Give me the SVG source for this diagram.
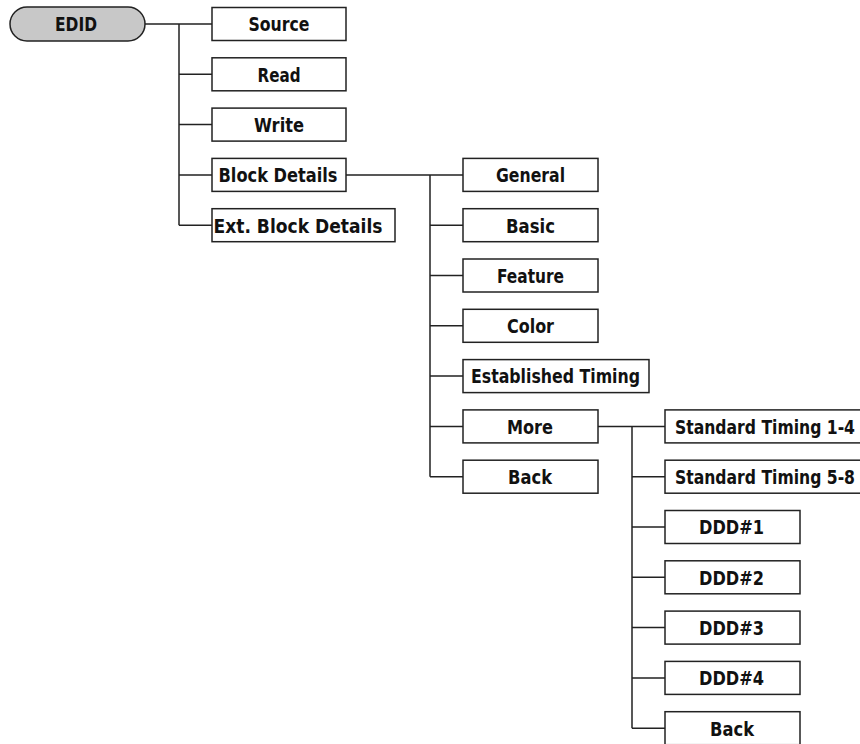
<svg xmlns="http://www.w3.org/2000/svg" width="860" height="744" viewBox="0 0 860 744">
<style>
.box{fill:#fff;stroke:#222;stroke-width:1.5}
.pill{fill:#c8c8c8;stroke:#222;stroke-width:1.5}
.t{font-family:"DejaVu Sans Condensed","DejaVu Sans",sans-serif;font-stretch:condensed;font-weight:bold;font-size:20px;fill:#111;text-anchor:middle}
.c{fill:none;stroke:#222;stroke-width:1.5}
</style>
<rect width="860" height="744" fill="#fff"/>
<g id="connectors">
<path class="c" d="M145,24H212M179,24V225.2M179,74.3H212M179,124.6H212M179,174.9H212M179,225.2H212"/>
<path class="c" d="M346,174.9H463M430,174.9V476.7M430,225.2H463M430,275.5H463M430,325.8H463M430,376.1H463M430,426.4H463M430,476.7H463"/>
<path class="c" d="M598,426.4H665M632,426.4V728.2M632,476.7H665M632,527H665M632,577.3H665M632,627.6H665M632,677.9H665M632,728.2H665"/>
</g>
<g id="edid"><rect class="pill" x="10" y="7" width="135" height="34" rx="17"/><text class="t" x="76" y="31" textLength="42" lengthAdjust="spacingAndGlyphs">EDID</text></g>
<g id="source"><rect class="box" x="212" y="7.5" width="134" height="33"/><text class="t" x="279" y="31.3" textLength="61" lengthAdjust="spacingAndGlyphs">Source</text></g>
<g id="read"><rect class="box" x="212" y="57.8" width="134" height="33"/><text class="t" x="279" y="81.6" textLength="43" lengthAdjust="spacingAndGlyphs">Read</text></g>
<g id="write"><rect class="box" x="212" y="108.1" width="134" height="33"/><text class="t" x="279" y="131.9" textLength="50" lengthAdjust="spacingAndGlyphs">Write</text></g>
<g id="block-details"><rect class="box" x="212" y="158.4" width="134" height="33"/><text class="t" x="278" y="182.2" textLength="119" lengthAdjust="spacingAndGlyphs">Block Details</text></g>
<g id="ext-block-details"><rect class="box" x="212" y="208.7" width="183" height="33"/><text class="t" x="298" y="232.5" textLength="169" lengthAdjust="spacingAndGlyphs">Ext. Block Details</text></g>
<g id="general"><rect class="box" x="463" y="158.4" width="135" height="33"/><text class="t" x="530.5" y="182.2" textLength="69" lengthAdjust="spacingAndGlyphs">General</text></g>
<g id="basic"><rect class="box" x="463" y="208.7" width="135" height="33"/><text class="t" x="530.5" y="232.5" textLength="49" lengthAdjust="spacingAndGlyphs">Basic</text></g>
<g id="feature"><rect class="box" x="463" y="259" width="135" height="33"/><text class="t" x="530.5" y="282.8" textLength="67" lengthAdjust="spacingAndGlyphs">Feature</text></g>
<g id="color"><rect class="box" x="463" y="309.3" width="135" height="33"/><text class="t" x="530.5" y="333.1" textLength="47" lengthAdjust="spacingAndGlyphs">Color</text></g>
<g id="established-timing"><rect class="box" x="463" y="359.6" width="186" height="33"/><text class="t" x="555.5" y="383.4" textLength="169" lengthAdjust="spacingAndGlyphs">Established Timing</text></g>
<g id="more"><rect class="box" x="463" y="409.9" width="135" height="33"/><text class="t" x="530" y="433.7" textLength="46" lengthAdjust="spacingAndGlyphs">More</text></g>
<g id="back1"><rect class="box" x="463" y="460.2" width="135" height="33"/><text class="t" x="530" y="484" textLength="44" lengthAdjust="spacingAndGlyphs">Back</text></g>
<g id="standard-timing-1-4"><rect class="box" x="665" y="409.9" width="210" height="33"/><text class="t" x="765" y="433.7" textLength="180" lengthAdjust="spacingAndGlyphs">Standard Timing 1-4</text></g>
<g id="standard-timing-5-8"><rect class="box" x="665" y="460.2" width="210" height="33"/><text class="t" x="765" y="484" textLength="180" lengthAdjust="spacingAndGlyphs">Standard Timing 5-8</text></g>
<g id="ddd1"><rect class="box" x="665" y="510.5" width="135" height="33"/><text class="t" x="731.5" y="534.3" textLength="65" lengthAdjust="spacingAndGlyphs">DDD#1</text></g>
<g id="ddd2"><rect class="box" x="665" y="560.8" width="135" height="33"/><text class="t" x="731.5" y="584.6" textLength="65" lengthAdjust="spacingAndGlyphs">DDD#2</text></g>
<g id="ddd3"><rect class="box" x="665" y="611.1" width="135" height="33"/><text class="t" x="731.5" y="634.9" textLength="65" lengthAdjust="spacingAndGlyphs">DDD#3</text></g>
<g id="ddd4"><rect class="box" x="665" y="661.4" width="135" height="33"/><text class="t" x="731.5" y="685.2" textLength="65" lengthAdjust="spacingAndGlyphs">DDD#4</text></g>
<g id="back2"><rect class="box" x="665" y="711.7" width="135" height="33"/><text class="t" x="732" y="735.5" textLength="44" lengthAdjust="spacingAndGlyphs">Back</text></g>
</svg>
